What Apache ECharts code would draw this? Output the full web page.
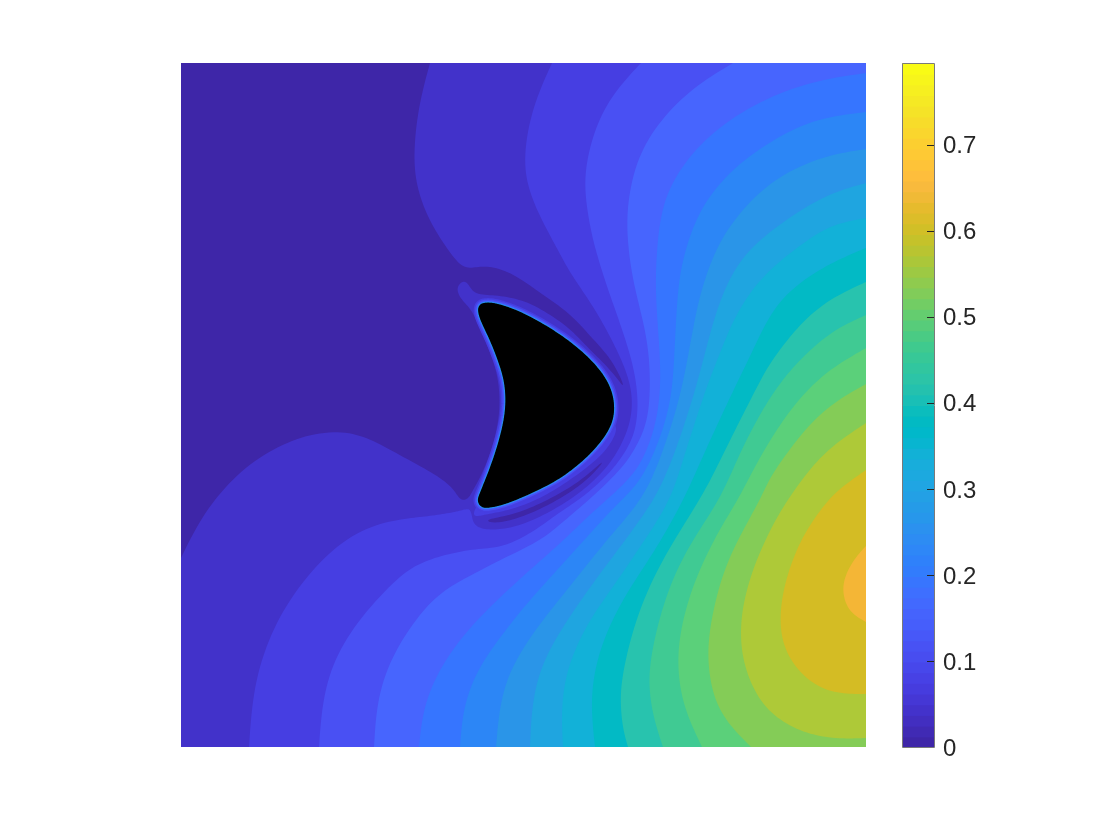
<!DOCTYPE html>
<html>
<head>
<meta charset="utf-8">
<script src="https://cdn.jsdelivr.net/npm/echarts@6/dist/echarts.min.js"></script>
<style>html,body{margin:0;padding:0;background:#fff}#c{width:1120px;height:840px}</style>
</head>
<body>
<div id="c"></div>
<script>
// Field domain (plot units) and colour scale
const fieldWidth = 685;
const fieldHeight = 684;
const colorMax = 0.795;
const colorTicks = [0, 0.1, 0.2, 0.3, 0.4, 0.5, 0.6, 0.7];

// Contour band colours, low to high
const bandColors = ['#3e26a8','#4232ca','#463ee2','#4950f3','#4765fe','#3675ff','#2c86f6','#2a95e8','#1fa5e0','#12b1d8','#02bac5','#28c3ae','#40ca93','#5bd07a','#84cc57','#aec938','#d4bc24','#f4b636'];

// Parula colour map for the colour bar
const parula = [[.2422,.1504,.6603],[.2504,.165,.7076],[.2578,.1818,.7511],[.2647,.1978,.7952],[.2706,.2147,.8364],[.2751,.2342,.871],[.2783,.2559,.8991],[.2803,.2782,.9221],[.2813,.3006,.9414],[.281,.3228,.9579],[.2795,.3447,.9717],[.276,.3667,.9829],[.2699,.3892,.9906],[.2602,.4123,.9952],[.244,.4358,.9988],[.2206,.4603,.9973],[.1963,.4847,.9892],[.1834,.5074,.9798],[.1786,.5289,.9682],[.1764,.5499,.952],[.1687,.5703,.9359],[.154,.5902,.9218],[.146,.6091,.9079],[.138,.6276,.8973],[.1248,.6459,.8883],[.1113,.6635,.8763],[.0952,.6798,.8598],[.0689,.6948,.8394],[.0297,.7082,.8163],[.0036,.7203,.7917],[.0067,.7312,.766],[.0433,.7411,.7394],[.0964,.75,.712],[.1408,.7584,.6842],[.1717,.767,.6554],[.1938,.7758,.6251],[.2161,.7843,.5923],[.247,.7918,.5567],[.2906,.7973,.5188],[.3406,.8008,.4789],[.3909,.8029,.4354],[.4456,.8024,.3909],[.5044,.7993,.348],[.5616,.7942,.3045],[.6174,.7876,.2612],[.672,.7793,.2227],[.7242,.7698,.191],[.7738,.7598,.1646],[.8203,.7498,.1535],[.8634,.7406,.1596],[.9035,.733,.1774],[.9393,.7288,.21],[.9728,.7298,.2394],[.9956,.7434,.2371],[.997,.7659,.2199],[.9952,.7893,.2028],[.9892,.8136,.1885],[.9786,.8386,.1766],[.9676,.8639,.1643],[.961,.889,.1537],[.9597,.9135,.1423],[.9628,.9373,.1265],[.9691,.9606,.1064],[.9769,.9839,.0805]];

// Contour outlines in plot units
const frame = [[0,0],[685,0],[685,684],[0,684]];
const band0 = [[0,0],[249,0],[237,44],[232,94],[236,127],[249,160],[269,190],[282,206],[296,204],[309,203],[332,210],[359,230],[389,250],[409,273],[429,294],[441,317],[443,325],[436,315],[422,299],[406,284],[389,265],[362,247],[342,237],[316,232],[296,232],[290,226],[286,219],[281,218],[275,225],[279,235],[286,242],[292,250],[296,259],[304,277],[314,302],[318,322],[319,344],[316,367],[309,392],[299,415],[292,427],[288,435],[282,438],[277,434],[272,425],[256,412],[222,394],[192,377],[166,368],[130,370],[92,385],[56,410],[22,450],[0,495]];
const level2 = [[371,0],[351,44],[342,94],[347,127],[362,160],[377,187],[389,210],[406,234],[422,260],[436,287],[446,310],[451,330],[451,350],[446,370],[434,394],[419,412],[399,430],[376,445],[349,459],[326,466],[306,467],[296,464],[292,459],[291,453],[289,445],[282,447],[269,450],[249,453],[229,455],[196,460],[156,480],[116,524],[89,570],[72,624],[68,684],[685,684],[685,0]];
const level2Lens = [[297,440],[292,450],[294,454],[302,452],[319,449],[339,444],[366,432],[392,415],[416,397],[431,380],[439,360],[419,357],[379,397],[319,427]];
const lowerSliver = [[306,456],[332,452],[359,441],[389,425],[409,410],[426,394],[412,412],[389,430],[362,445],[336,456],[316,460],[307,459]];
const level3 = [[460,0],[432,30],[414,64],[404,104],[404,134],[410,169],[416,192],[426,224],[439,260],[451,297],[456,324],[457,347],[454,370],[444,390],[431,407],[419,419],[402,434],[379,449],[359,464],[336,478],[316,485],[292,486],[262,492],[239,500],[219,512],[179,554],[152,597],[141,640],[138,684],[685,684],[685,0]];
const level4 = [[552,0],[512,24],[479,57],[456,94],[446,140],[446,177],[452,220],[464,264],[469,300],[469,337],[465,364],[452,390],[439,407],[419,427],[396,447],[376,464],[359,478],[319,497],[296,509],[262,527],[239,550],[212,590],[196,634],[193,684],[685,684],[685,0]];
const level5 = [[685,10],[636,17],[586,34],[536,64],[502,100],[482,137],[476,180],[474,227],[478,277],[480,317],[477,350],[470,377],[459,402],[447,417],[429,434],[406,454],[382,478],[352,504],[319,534],[286,567],[259,604],[242,644],[238,684],[685,684]];
const level6 = [[685,49],[636,55],[596,74],[552,104],[519,144],[504,187],[497,220],[494,277],[492,320],[487,350],[476,384],[459,420],[432,445],[406,474],[376,507],[346,540],[319,574],[296,607],[282,644],[279,684],[685,684]];
const level7 = [[685,86],[646,92],[602,110],[569,137],[539,175],[522,220],[514,254],[507,294],[499,334],[486,377],[469,422],[452,447],[432,470],[412,494],[386,527],[359,560],[332,600],[319,637],[315,684],[685,684]];
const level8 = [[685,120],[652,129],[619,147],[577,177],[554,204],[539,237],[529,270],[519,310],[509,344],[496,384],[479,427],[459,457],[439,484],[412,520],[386,557],[362,597],[351,637],[349,684],[685,684]];
const level9 = [[685,155],[652,161],[626,177],[596,200],[572,224],[552,257],[539,290],[527,320],[517,350],[504,390],[493,427],[479,454],[459,484],[432,524],[406,560],[386,604],[380,644],[382,684],[685,684]];
const level10 = [[685,185],[656,197],[626,214],[602,234],[586,257],[572,287],[554,324],[537,360],[517,404],[505,432],[479,480],[452,520],[432,554],[416,594],[409,637],[414,684],[685,684]];
const level11 = [[685,219],[652,234],[626,254],[606,277],[586,304],[571,334],[554,367],[536,404],[519,437],[482,494],[456,550],[441,610],[439,640],[442,667],[447,684],[685,684]];
const level12 = [[685,252],[656,265],[632,284],[609,307],[589,334],[572,364],[557,394],[539,437],[509,480],[486,527],[471,584],[467,620],[472,654],[482,684],[685,684]];
const level13 = [[685,285],[652,304],[629,324],[609,347],[589,377],[572,407],[557,437],[536,470],[512,520],[499,567],[496,604],[502,644],[521,684],[685,684]];
const level14 = [[685,321],[656,337],[629,360],[606,390],[589,414],[579,437],[562,467],[542,507],[529,560],[526,597],[532,634],[546,660],[570,684],[685,684]];
const level15 = [[685,360],[659,377],[636,397],[613,427],[592,460],[572,504],[561,544],[559,577],[564,607],[579,640],[602,660],[629,672],[659,676],[685,675]];
const level16 = [[685,407],[656,427],[639,447],[619,477],[604,517],[598,554],[602,584],[616,607],[636,624],[659,631],[685,631]];
const level17 = [[685,483],[672,497],[662,517],[662,534],[669,550],[685,559]];
const obstacle = [[296,247],[299,240],[309,239],[326,243],[349,253],[376,269],[399,286],[419,306],[430,324],[434,342],[432,361],[419,381],[399,401],[376,418],[349,431],[326,441],[309,445],[300,445],[296,438],[298,432],[305,415],[313,394],[321,367],[325,344],[324,320],[318,300],[309,277],[300,259]];

function onFrame(p){ return p[0]===0||p[1]===0||p[0]===fieldWidth||p[1]===fieldHeight; }

// Cubic B-spline over a run of outline points, for a smooth drawn edge
function runCurve(run, closed){
  const n=run.length;
  if(n<3&&!closed) return run.slice();
  const out=[], steps=8;
  const ctrl=closed?run:[run[0],run[0],...run,run[n-1],run[n-1]];
  const m=ctrl.length, segs=closed?n:m-3;
  for(let i=0;i<segs;i++){
    const a=ctrl[i%m],b=ctrl[(i+1)%m],c=ctrl[(i+2)%m],d=ctrl[(i+3)%m];
    for(let k=0;k<steps;k++){
      const t=k/steps,u=1-t;
      const w=[u*u*u/6,(3*t*t*t-6*t*t+4)/6,(-3*t*t*t+3*t*t+3*t+1)/6,t*t*t/6];
      out.push([0,1].map(j=>w[0]*a[j]+w[1]*b[j]+w[2]*c[j]+w[3]*d[j]));
    }
  }
  if(!closed) out.push(run[n-1]);
  return out;
}
function outline(pts){
  const corners=[];
  pts.forEach((p,i)=>{ if(onFrame(p)) corners.push(i); });
  if(!corners.length) return runCurve(pts,true);
  const out=[];
  corners.forEach((s,ci)=>{
    const e=corners[(ci+1)%corners.length], run=[];
    for(let i=s;;i=(i+1)%pts.length){ run.push(pts[i]); if(i===e) break; }
    out.push(...runCurve(run,false));
  });
  return out;
}

function region(name, pts, style){
  const smooth=outline(pts);
  return {
    name, type:'custom', coordinateSystem:'cartesian2d', xAxisIndex:0, yAxisIndex:0,
    data:pts, encode:{x:0,y:1}, silent:true, animation:false, clip:true,
    renderItem(params, api){
      if(params.dataIndex!==0) return null;
      return {type:'polygon', shape:{points:smooth.map(p=>api.coord(p))},
        style:Object.assign({lineJoin:'round'},style)};
    }
  };
}

const levels=[level2,level3,level4,level5,level6,level7,level8,level9,level10,level11,level12,level13,level14,level15,level16,level17];
const series=[
  region('band1',frame,{fill:bandColors[1]}),
  region('band0',band0,{fill:bandColors[0]}),
  region('level2',level2,{fill:bandColors[2]}),
  region('level2Lens',level2Lens,{fill:bandColors[2]}),
  region('lowerSliver',lowerSliver,{fill:bandColors[0]})
];
levels.slice(1).forEach((pts,i)=>series.push(region('level'+(i+3),pts,{fill:bandColors[i+3]})));
series.push(
  region('halo1',obstacle,{fill:'#000',stroke:bandColors[2],lineWidth:9}),
  region('halo2',obstacle,{fill:'#000',stroke:bandColors[3],lineWidth:6}),
  region('halo3',obstacle,{fill:'#000',stroke:bandColors[5],lineWidth:3}),
  region('halo4',obstacle,{fill:'#000',stroke:bandColors[8],lineWidth:1}),
  region('obstacle',obstacle,{fill:'#000'})
);

// Colour bar, one cell per colour map entry
const toCss=c=>'rgb('+c.map(v=>Math.round(v*255)).join(',')+')';
series.push({
  name:'colorbar', type:'custom', coordinateSystem:'cartesian2d', xAxisIndex:1, yAxisIndex:1,
  data:parula.map((c,i)=>[i]), silent:true, animation:false, clip:false,
  renderItem(params, api){
    const i=params.dataIndex, n=parula.length;
    const p0=api.coord([0,colorMax*i/n]), p1=api.coord([1,colorMax*(i+1)/n]);
    return {type:'rect', shape:{x:p0[0],y:p1[1],width:p1[0]-p0[0],height:p0[1]-p1[1]+(i?1:0)},
      style:{fill:toCss(parula[i])}};
  }
});
series.push({
  name:'colorbarBox', type:'custom', coordinateSystem:'cartesian2d', xAxisIndex:1, yAxisIndex:1,
  data:[[0]], silent:true, animation:false, clip:false, z:5,
  renderItem(params, api){
    const p0=api.coord([0,0]), p1=api.coord([1,colorMax]);
    return {type:'rect', shape:{x:p0[0]+.5,y:p1[1]+.5,width:p1[0]-p0[0],height:p0[1]-p1[1]},
      style:{fill:'none',stroke:'#7a7a7a',lineWidth:1}};
  }
});
series.push({
  name:'colorbarTicks', type:'custom', coordinateSystem:'cartesian2d', xAxisIndex:1, yAxisIndex:1,
  data:colorTicks.slice(1).map(t=>[1,t]), encode:{x:0,y:1}, silent:true, animation:false, clip:false, z:6,
  renderItem(params, api){
    const p=api.coord([api.value(0),api.value(1)]), y=Math.round(p[1])+.5;
    return {type:'line', shape:{x1:p[0]-7,y1:y,x2:p[0],y2:y}, style:{stroke:'#262626',lineWidth:1}};
  }
});

const chart=echarts.init(document.getElementById('c'),null,{renderer:'canvas'});
chart.setOption({
  backgroundColor:'#ffffff',
  animation:false,
  grid:[
    {left:181,top:63,width:685,height:684},
    {left:902,top:63,width:32,height:684}
  ],
  xAxis:[
    {gridIndex:0,type:'value',min:0,max:fieldWidth,show:false},
    {gridIndex:1,type:'value',min:0,max:1,show:false}
  ],
  yAxis:[
    {gridIndex:0,type:'value',min:0,max:fieldHeight,inverse:true,show:false},
    {gridIndex:1,type:'value',min:0,max:colorMax,interval:0.1,position:'right',z:6,
      axisLine:{show:false},
      axisTick:{show:false},
      splitLine:{show:false},
      axisLabel:{show:true,margin:9,color:'#262626',fontFamily:'Liberation Sans',fontSize:24,
        verticalAlign:'top',lineHeight:4,showMaxLabel:false,
        formatter:v=>colorTicks.some(t=>Math.abs(t-v)<1e-6)?String(+v.toFixed(1)):''}
    }
  ],
  series
});
</script>
</body>
</html>
